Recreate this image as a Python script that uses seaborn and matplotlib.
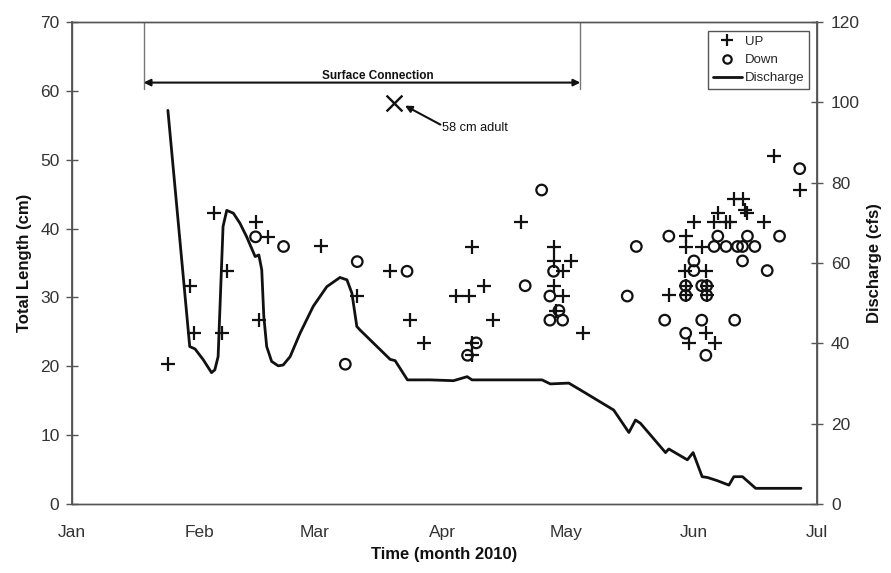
import numpy as np
import pandas as pd
import matplotlib
matplotlib.use("Agg")
import matplotlib.pyplot as plt
from matplotlib.lines import Line2D
import seaborn as sns

# Days since 1 Jan 2010 and total length (cm) of fish moving upstream
up_day = [23.3, 28.6, 29.7, 34.5, 36.5, 37.6, 44.6, 45.5, 47.5, 60.5, 69.2,
          77.3, 82.2, 85.4, 93.3, 96.4, 97.2, 97.2, 97.3, 100.2, 102.2, 109.2,
          117.2, 117.2, 117.2, 117.7, 119.3, 119.3, 121.3, 124.2,
          145.0, 148.9, 149.1, 149.1, 149.1, 149.1, 149.9, 151.1, 153.0, 154.0,
          154.2, 154.2, 154.0, 156.0, 156.1, 156.9, 158.8, 159.9, 160.8, 163.1,
          163.4, 164.1, 168.1, 170.6, 176.9]
up_len = [20.3, 31.7, 24.8, 42.3, 24.8, 33.9, 41.0, 26.7, 38.8, 37.4, 30.2,
          33.8, 26.7, 23.4, 30.2, 30.2, 23.4, 21.6, 37.3, 31.7, 26.7, 40.9,
          37.3, 35.3, 31.7, 28.1, 33.8, 30.2, 35.3, 24.8,
          30.3, 33.9, 38.9, 37.3, 31.7, 30.3, 23.4, 40.9, 37.3, 33.9,
          31.7, 30.3, 24.8, 40.9, 23.4, 42.3, 40.9, 40.9, 44.3, 44.3,
          42.7, 42.3, 40.9, 50.5, 45.6]

# Fish moving downstream
down_day = [44.6, 51.4, 66.4, 69.3, 81.4, 96.1, 98.2, 110.1, 114.1, 116.1,
            116.1, 117.0, 118.3, 119.2, 134.9, 137.1, 144.0, 145.0, 149.1,
            149.1, 149.1, 151.1, 151.1, 153.0, 153.0, 154.2, 154.2, 154.0,
            156.0, 156.9, 158.9, 161.0, 161.7, 162.9, 162.9, 164.1, 165.9,
            168.9, 171.9, 176.8]
down_len = [38.8, 37.4, 20.3, 35.2, 33.8, 21.6, 23.4, 31.7, 45.6, 30.2,
            26.7, 33.8, 28.1, 26.7, 30.2, 37.4, 26.7, 38.9, 31.7,
            30.3, 24.8, 35.3, 33.9, 31.7, 26.7, 31.7, 30.3, 21.6,
            37.4, 38.9, 37.4, 26.7, 37.4, 37.4, 35.3, 38.9, 37.4,
            33.9, 38.9, 48.7]

# Stream discharge (cfs)
q_day = [23.3, 28.6, 29.9, 31.9, 33.9, 34.7, 35.5, 36.7, 37.6, 39.2, 40.8,
         42.4, 44.5, 45.4, 46.1, 46.6, 47.3, 48.5, 50.1, 51.3, 53.0, 55.4,
         58.6, 61.9, 65.1, 66.8, 68.0, 69.2, 70.0, 77.3, 78.5, 81.5, 87.0,
         92.7, 96.0, 97.2, 114.2, 116.2, 120.7, 123.5, 131.6, 135.3, 136.9,
         138.1, 144.2, 145.0, 149.5, 150.9, 153.1, 154.4, 156.8, 159.6, 160.8,
         162.9, 166.1, 177.1]
q_cfs = [98.0, 39.2, 38.6, 35.9, 32.7, 33.4, 36.7, 69.1, 73.1, 72.4, 69.9,
         66.6, 61.6, 62.0, 58.3, 46.7, 39.2, 35.5, 34.4, 34.6, 36.7, 42.5,
         49.2, 54.1, 56.4, 55.8, 52.5, 44.2, 43.3, 36.0, 35.7, 30.9, 30.9,
         30.7, 31.7, 30.9, 30.9, 29.9, 30.1, 28.4, 23.4, 17.8, 20.9,
         20.1, 12.8, 13.7, 11.0, 12.8, 6.8, 6.6, 5.8, 4.7, 6.8,
         6.8, 3.9, 3.9]

month_days = [0, 31, 59, 90, 120, 151, 181]
month_labels = ["Jan", "Feb", "Mar", "Apr", "May", "Jun", "Jul"]

connection_start, connection_end = 17.4, 123.5
adult_day, adult_len = 78.3, 58.2

sns.set_theme(style="white")
plt.rcParams["font.family"] = ["Liberation Sans", "DejaVu Sans"]

fig = plt.figure(figsize=(8.91, 5.73), dpi=100)
ax = fig.add_axes([72 / 891, 1 - 504 / 573, 745 / 891, 482 / 573])
ax2 = ax.twinx()

ink = "#111111"
spine_c = "#555555"

up_df = pd.DataFrame({"day": up_day, "length": up_len})
down_df = pd.DataFrame({"day": down_day, "length": down_len})
q_df = pd.DataFrame({"day": q_day, "cfs": q_cfs})

sns.scatterplot(data=up_df, x="day", y="length", marker="+", s=100,
                color=ink, linewidth=1.6, ax=ax, zorder=3)
sns.scatterplot(data=down_df, x="day", y="length", marker="o", s=58,
                color=ink, linewidth=1.6, ax=ax, zorder=3)
down_coll = ax.collections[-1]
down_coll.set_facecolor("none")
down_coll.set_edgecolor(ink)

sns.lineplot(data=q_df, x="day", y="cfs", color=ink, linewidth=2,
             sort=False, estimator=None, ax=ax2)

# surface connection period
for d in (connection_start, connection_end):
    ax.plot([d, d], [60.3, 70], color="#777777", lw=1.0, zorder=2)
ax.annotate("", xy=(connection_start, 61.2), xytext=(connection_end, 61.2),
            arrowprops=dict(arrowstyle="<|-|>", color=ink, lw=1.5,
                            mutation_scale=10, shrinkA=0, shrinkB=0))
ax.text(74.4, 62.2, "Surface Connection", fontsize=8.5, fontweight="bold",
        ha="center", va="center", color=ink)

# large adult
ax.scatter([adult_day], [adult_len], marker="x", s=130, color=ink,
           linewidth=1.7, zorder=4)
ax.annotate("", xy=(80.9, 57.85), xytext=(89.5, 55.1),
            arrowprops=dict(arrowstyle="-|>", color=ink, lw=1.5,
                            mutation_scale=10, shrinkA=0, shrinkB=0))
ax.text(90.0, 54.6, "58 cm adult", fontsize=9.2, color=ink, ha="left",
        va="center")

ax.set_xlim(0, 181)
ax.set_ylim(0, 70)
ax2.set_ylim(0, 120)
ax.set_xticks(month_days)
ax.set_xticklabels(month_labels)
ax.set_yticks(np.arange(0, 71, 10))
ax2.set_yticks(np.arange(0, 121, 20))

ax.set_xlabel("Time (month 2010)", fontsize=12, fontweight="bold", color=ink)
ax.set_ylabel("Total Length (cm)", fontsize=12, fontweight="bold", color=ink)
ax2.set_ylabel("Discharge (cfs)", fontsize=12, fontweight="bold", color=ink)
ax.xaxis.set_label_coords(0.5, -0.089)
ax.yaxis.set_label_coords(-0.0537, 0.5)
ax2.yaxis.set_label_coords(1.067, 0.5)

for a in (ax, ax2):
    for sp in a.spines.values():
        sp.set_color(spine_c)
        sp.set_linewidth(1.0)
    a.tick_params(direction="inout", length=8, width=1, color=spine_c,
                  labelsize=12.5, labelcolor="#333333")
    a.grid(False)
ax.tick_params(axis="x", pad=11)
ax.tick_params(axis="y", pad=5)
ax2.tick_params(axis="y", pad=6)
ax.spines["left"].set_linewidth(1.3)
ax2.spines["right"].set_linewidth(1.3)

handles = [
    Line2D([], [], marker="+", linestyle="none", color=ink, markersize=8,
           markeredgewidth=1.6),
    Line2D([], [], marker="o", linestyle="none", color=ink, markersize=6,
           markerfacecolor="none", markeredgewidth=1.6),
    Line2D([], [], color=ink, linewidth=2),
]
leg = ax2.legend(handles, ["UP", "Down", "Discharge"], loc="upper right",
                 bbox_to_anchor=(0.989, 0.981), borderaxespad=0,
                 fontsize=9.5, frameon=True, fancybox=False, framealpha=1,
                 edgecolor="#555555", handlelength=2.2, handletextpad=0.2,
                 labelspacing=0.45, borderpad=0.35)
leg.get_frame().set_linewidth(1.0)

fig.savefig("out.png", dpi=100)
